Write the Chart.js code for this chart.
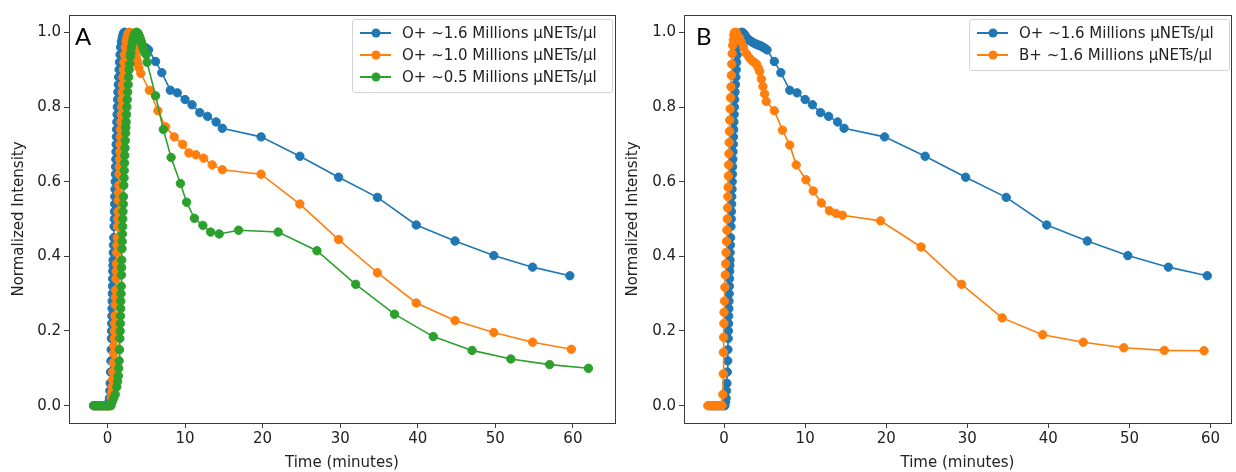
<!DOCTYPE html>
<html>
<head>
<meta charset="utf-8">
<script src="https://cdn.jsdelivr.net/npm/chart.js@4.4.1/dist/chart.umd.min.js"></script>
<style>
  body { margin:0; background:#fff; width:1236px; height:472px; overflow:hidden; position:relative; font-family:"DejaVu Sans", sans-serif; }
  .box { position:absolute; top:0; height:472px; }
  .tag { position:absolute; font-family:Lato, sans-serif; font-size:24px; color:#000; line-height:1; }
  .legend { position:absolute; background:rgba(255,255,255,0.8); border:1px solid #d4d4d4; border-radius:3px; padding:2px 7px 4px 7px; font-size:15px; color:#222; }
  .legend .row { display:flex; align-items:center; height:22px; white-space:nowrap; }
  .legend .handle { position:relative; width:31px; height:2px; margin-right:11px; flex:none; }
  .legend .dot { position:absolute; left:50%; top:50%; width:9px; height:9px; border-radius:50%; transform:translate(-50%,-50%); }
</style>
</head>
<body>
<div class="box" id="boxA" style="left:0;width:620px"><canvas id="chartA"></canvas></div>
<div class="box" id="boxB" style="left:614px;width:622px"><canvas id="chartB"></canvas></div>
<div class="tag" style="left:75px;top:24px">A</div>
<div class="tag" style="left:696px;top:24px">B</div>
<div class="legend" id="legA" style="left:352px;top:19px;width:245px"></div>
<div class="legend" id="legB" style="left:969px;top:19px;width:245px"></div>
<script>
// O+ ~1.6 (same run in both panels)
const o16T = [-1.8,-1.6,-1.4,-1.2,-1.0,-0.8,-0.6,-0.4,-0.2,0.0,0.1,
  0.2,0.25,0.3,0.35,0.4,0.45,0.48,0.51,0.53,0.55,0.57,0.59,0.61,0.63,0.65,0.67,0.69,0.71,0.73,0.75,0.78,0.81,0.85,0.88,0.9,0.93,0.95,0.98,1.0,1.03,1.05,1.08,1.1,1.13,1.15,1.18,1.21,1.24,1.27,1.31,1.35,1.4,1.45,1.5,1.55,1.62,1.7,1.8,1.9,2.0,2.1,2.15,
  2.25,2.35,2.5,2.65,2.8,3.0,3.2,3.4,3.6,3.8,4.0,4.2,4.4,4.6,4.8,5.0,5.3,6.2,7.0,8.1,9.0,10.0,10.9,11.9,12.9,14.0,14.8,19.8,24.8,29.8,34.8,39.8,44.8,49.8,54.8,59.6];
const o16V = [0,0,0,0,0,0,0,0,0,0,0,
  0.01,0.02,0.04,0.06,0.09,0.12,0.15,0.18,0.2,0.22,0.24,0.26,0.28,0.3,0.32,0.34,0.36,0.375,0.39,0.41,0.43,0.45,0.48,0.5,0.52,0.54,0.56,0.58,0.6,0.62,0.64,0.66,0.68,0.7,0.72,0.74,0.76,0.78,0.8,0.82,0.84,0.86,0.88,0.9,0.92,0.94,0.96,0.975,0.985,0.993,0.998,1.0,
  1.0,0.998,0.995,0.99,0.985,0.98,0.978,0.975,0.972,0.97,0.968,0.966,0.965,0.963,0.96,0.958,0.953,0.922,0.892,0.845,0.838,0.82,0.806,0.785,0.775,0.76,0.743,0.72,0.668,0.612,0.558,0.484,0.441,0.402,0.371,0.348];

// O+ ~1.0
const o10T = [-1.7,-1.5,-1.3,-1.1,-0.9,-0.7,-0.5,-0.3,-0.1,0.1,0.3,0.4,
  0.5,0.55,0.6,0.65,0.7,0.75,0.8,0.83,0.87,0.9,0.93,0.96,1.0,1.03,1.06,1.1,1.13,1.16,1.2,1.23,1.26,1.3,1.33,1.36,1.4,1.43,1.46,1.5,1.53,1.57,1.6,1.63,1.67,1.7,1.74,1.78,1.82,1.86,1.9,1.95,2.0,2.06,2.13,2.2,2.3,2.4,2.5,2.6,2.7,2.8,
  2.9,3.0,3.1,3.2,3.3,3.4,3.5,3.6,3.7,3.8,3.9,4.05,4.3,5.4,6.5,7.5,8.6,9.7,10.5,11.4,12.4,13.5,14.8,19.8,24.8,29.8,34.8,39.8,44.8,49.8,54.8,59.8];
const o10V = [0,0,0,0,0,0,0,0,0,0,0,0,
  0.02,0.035,0.05,0.07,0.09,0.115,0.14,0.16,0.18,0.2,0.22,0.24,0.27,0.29,0.31,0.34,0.36,0.38,0.41,0.43,0.45,0.48,0.5,0.52,0.55,0.57,0.59,0.62,0.64,0.66,0.68,0.7,0.72,0.74,0.76,0.78,0.8,0.82,0.84,0.86,0.88,0.9,0.92,0.94,0.96,0.975,0.985,0.993,0.998,1.0,
  1.0,0.998,0.993,0.985,0.975,0.965,0.955,0.945,0.935,0.925,0.915,0.905,0.89,0.845,0.79,0.747,0.72,0.70,0.677,0.672,0.663,0.645,0.632,0.62,0.54,0.445,0.356,0.275,0.228,0.196,0.17,0.151];

// O+ ~0.5
const o05T = [-1.76,-1.55,-1.35,-1.15,-0.95,-0.75,-0.55,-0.35,-0.15,0.05,0.25,0.45,
  0.6,0.8,1.0,1.2,1.3,1.4,1.45,1.5,1.55,1.6,1.63,1.66,1.68,1.7,1.72,1.75,1.77,1.8,1.82,1.84,1.87,1.9,1.92,1.95,1.97,2.0,2.03,2.06,2.1,2.13,2.16,2.2,2.23,2.26,2.3,2.34,2.37,2.4,2.45,2.5,2.55,2.6,2.67,2.73,2.8,2.87,2.95,3.0,3.1,3.2,3.3,3.4,3.5,3.6,3.7,
  3.8,3.9,4.0,4.1,4.2,4.3,4.4,4.5,4.6,4.7,4.8,5.0,5.1,6.2,7.2,8.2,9.4,10.2,11.2,12.3,13.3,14.4,16.9,22.0,27.0,32.0,37.0,42.0,47.0,52.0,57.0,62.0];
const o05V = [0,0,0,0,0,0,0,0,0,0,0,0,
  0.01,0.02,0.03,0.05,0.065,0.08,0.1,0.12,0.15,0.18,0.2,0.22,0.24,0.26,0.28,0.3,0.32,0.35,0.37,0.39,0.42,0.44,0.46,0.48,0.5,0.52,0.54,0.56,0.59,0.61,0.63,0.65,0.67,0.69,0.71,0.73,0.745,0.76,0.78,0.8,0.82,0.84,0.86,0.88,0.9,0.915,0.935,0.945,0.96,0.972,0.982,0.99,0.995,0.999,1.0,
  1.0,0.998,0.995,0.99,0.985,0.978,0.972,0.965,0.958,0.952,0.946,0.94,0.92,0.83,0.74,0.665,0.595,0.545,0.502,0.483,0.465,0.46,0.47,0.465,0.415,0.325,0.245,0.185,0.148,0.125,0.11,0.10];

// B+ ~1.6
const b16T = [-2.0,-1.8,-1.6,-1.4,-1.2,-1.0,-0.8,-0.6,-0.4,-0.25,
  -0.15,-0.1,-0.08,-0.05,-0.02,0.0,0.05,0.1,0.15,0.2,0.25,0.3,0.35,0.4,0.43,0.47,0.5,0.53,0.57,0.6,0.63,0.67,0.7,0.75,0.8,0.85,0.9,0.95,1.0,1.07,1.15,1.22,1.3,
  1.5,1.7,1.9,2.1,2.4,2.75,3.1,3.4,3.7,4.0,4.2,4.4,4.6,4.8,5.0,5.2,6.2,7.2,8.1,8.9,10.1,11.0,12.0,13.0,13.8,14.6,19.3,24.3,29.3,34.3,39.3,44.3,49.3,54.3,59.2];
const b16V = [0,0,0,0,0,0,0,0,0,0,
  0.03,0.085,0.143,0.183,0.22,0.25,0.28,0.317,0.35,0.38,0.41,0.44,0.47,0.5,0.53,0.56,0.585,0.615,0.645,0.675,0.705,0.735,0.765,0.795,0.825,0.854,0.885,0.915,0.943,0.965,0.98,0.993,1.0,
  1.0,0.99,0.985,0.975,0.96,0.943,0.932,0.925,0.92,0.915,0.905,0.895,0.875,0.855,0.835,0.815,0.79,0.738,0.698,0.645,0.605,0.575,0.543,0.522,0.515,0.51,0.495,0.425,0.325,0.235,0.19,0.17,0.155,0.148,0.147];

const labelsA = ['O+ ~1.6 Millions \u03bcNETs/\u03bcl', 'O+ ~1.0 Millions \u03bcNETs/\u03bcl', 'O+ ~0.5 Millions \u03bcNETs/\u03bcl'];
const labelsB = ['O+ ~1.6 Millions \u03bcNETs/\u03bcl', 'B+ ~1.6 Millions \u03bcNETs/\u03bcl'];
const colors = ['#1f77b4', '#ff7f0e', '#2ca02c'];
const xTicks = [0, 10, 20, 30, 40, 50, 60];
const yTicks = [0.0, 0.2, 0.4, 0.6, 0.8, 1.0];

const ink = '#222';
const frameColor = '#3a3a3a';
Chart.defaults.font.family = '"DejaVu Sans", sans-serif';
Chart.defaults.font.size = 15;
Chart.defaults.color = ink;

function pts(t, v) {
  return t.map((x, i) => ({ x: x, y: v[i] }));
}

function series(label, t, v, color, order) {
  return {
    label: label,
    data: pts(t, v),
    borderColor: color,
    backgroundColor: color,
    borderWidth: 1.6,
    pointRadius: 4.2,
    pointBorderWidth: 1,
    pointBorderColor: color,
    pointBackgroundColor: color,
    order: order
  };
}

// box round the plot area, like the matplotlib spines
const frame = {
  id: 'frame',
  afterDatasetsDraw(chart) {
    const a = chart.chartArea;
    const ctx = chart.ctx;
    ctx.save();
    ctx.strokeStyle = frameColor;
    ctx.lineWidth = 1;
    ctx.strokeRect(Math.round(a.left) + 0.5, Math.round(a.top) + 0.5, Math.round(a.right - a.left), Math.round(a.bottom - a.top));
    ctx.restore();
  }
};

function makeChart(id, datasets, xmin, xmax, yWidth) {
  const tickGrid = { display: true, drawOnChartArea: false, drawTicks: true, tickLength: 5, color: frameColor, lineWidth: 1 };
  return new Chart(document.getElementById(id), {
    type: 'line',
    data: { datasets: datasets },
    plugins: [frame],
    options: {
      responsive: true,
      maintainAspectRatio: false,
      animation: false,
      layout: { padding: { top: 15, right: 2, left: 0, bottom: 0 } },
      plugins: { legend: { display: false }, tooltip: { enabled: false } },
      scales: {
        x: {
          type: 'linear', min: xmin, max: xmax,
          grid: tickGrid,
          border: { display: false },
          ticks: { padding: 2, color: ink, callback: v => String(v) },
          afterBuildTicks: s => { s.ticks = xTicks.map(v => ({ value: v })); },
          afterFit: s => { s.height = 49; },
          title: { display: true, text: 'Time (minutes)', color: ink, padding: { top: 0, bottom: 0 } }
        },
        y: {
          type: 'linear', min: -0.0465, max: 1.0465,
          grid: tickGrid,
          border: { display: false },
          ticks: { padding: 3, color: ink, callback: v => v.toFixed(1) },
          afterBuildTicks: s => { s.ticks = yTicks.map(v => ({ value: v })); },
          afterFit: s => { s.width = yWidth; },
          title: { display: true, text: 'Normalized Intensity', color: ink, padding: { top: 10, bottom: 0 } }
        }
      }
    }
  });
}

makeChart('chartA', [
  series(labelsA[0], o16T, o16V, colors[0], 3),
  series(labelsA[1], o10T, o10V, colors[1], 2),
  series(labelsA[2], o05T, o05V, colors[2], 1)
], -4.96, 65.4, 69);

makeChart('chartB', [
  series(labelsB[0], o16T, o16V, colors[0], 2),
  series(labelsB[1], b16T, b16V, colors[1], 1)
], -4.94, 62.5, 70);

function legend(id, labels) {
  let html = '';
  labels.forEach((l, i) => {
    html += `<div class="row"><span class="handle" style="background:${colors[i]}"><span class="dot" style="background:${colors[i]}"></span></span><span>${l}</span></div>`;
  });
  document.getElementById(id).innerHTML = html;
}
legend('legA', labelsA);
legend('legB', labelsB);
</script>
</body>
</html>
